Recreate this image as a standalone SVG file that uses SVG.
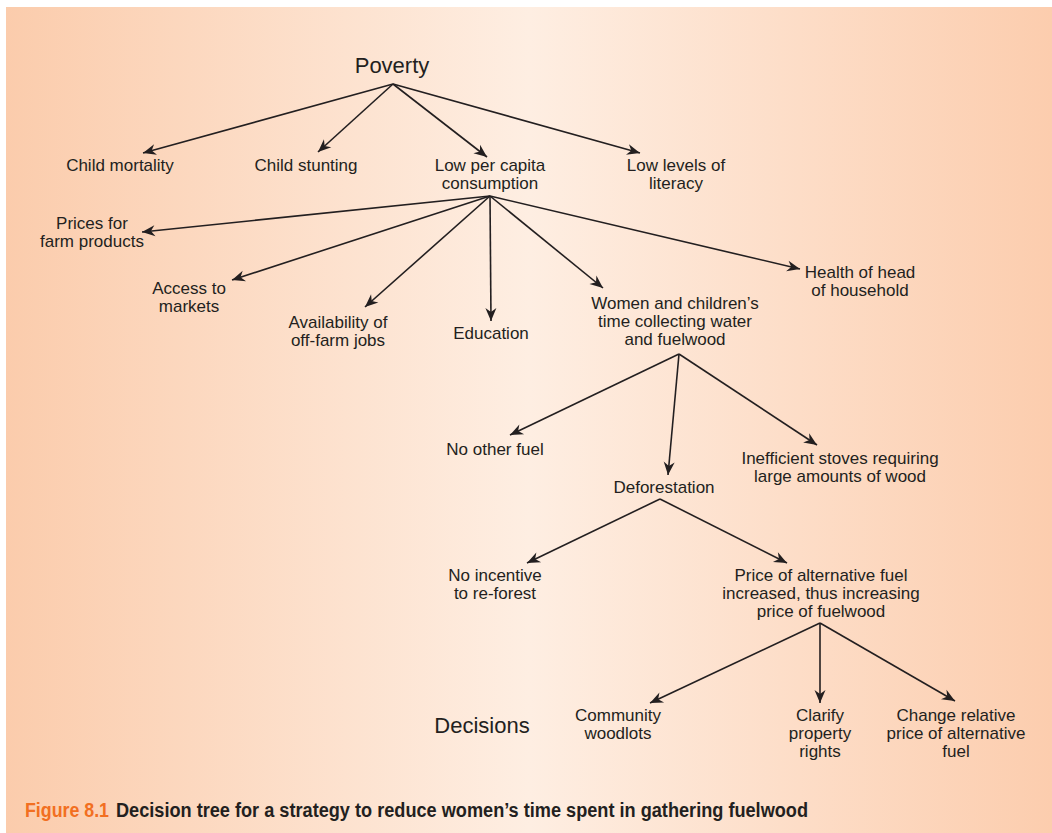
<svg xmlns="http://www.w3.org/2000/svg" width="1052" height="833" viewBox="0 0 1052 833">
<defs>
<linearGradient id="bg" x1="0" y1="0" x2="1" y2="0">
<stop offset="0" stop-color="#fbccac"/>
<stop offset="0.5" stop-color="#feeee2"/>
<stop offset="1" stop-color="#fccdae"/>
</linearGradient>
<marker id="ah" markerUnits="userSpaceOnUse" markerWidth="16" markerHeight="12" viewBox="-14 -6 16 12" refX="0" refY="0" orient="auto">
<path d="M0,0 L-13,-5.5 L-9,0 L-13,5.5 Z" fill="#231f20"/>
</marker>
<style>
.t{font-family:"Liberation Sans",Arial,sans-serif;font-size:17px;fill:#231f20;text-anchor:middle}
.big{font-size:22px}
.e{stroke:#231f20;stroke-width:1.6;fill:none;marker-end:url(#ah)}
.cap{font-family:"Liberation Sans Narrow","Liberation Sans",Arial,sans-serif;font-weight:bold;font-size:20px}
</style>
</defs>
<rect x="0" y="0" width="1052" height="833" fill="#ffffff"/>
<rect x="6" y="7" width="1046" height="826" fill="url(#bg)"/>

<g id="connectors">
<line class="e" x1="393" y1="84" x2="143" y2="153"/>
<line class="e" x1="393" y1="84" x2="318" y2="152"/>
<line class="e" x1="393" y1="84" x2="487" y2="157"/>
<line class="e" x1="393" y1="84" x2="640" y2="153"/>
<line class="e" x1="490" y1="196" x2="142" y2="232"/>
<line class="e" x1="490" y1="196" x2="232" y2="280"/>
<line class="e" x1="490" y1="196" x2="365" y2="307"/>
<line class="e" x1="490" y1="196" x2="491" y2="321"/>
<line class="e" x1="490" y1="196" x2="603" y2="288"/>
<line class="e" x1="490" y1="196" x2="800" y2="269"/>
<line class="e" x1="679" y1="354" x2="510" y2="435"/>
<line class="e" x1="679" y1="354" x2="668" y2="475"/>
<line class="e" x1="679" y1="354" x2="817" y2="445"/>
<line class="e" x1="660" y1="499" x2="527" y2="563"/>
<line class="e" x1="660" y1="499" x2="787" y2="563"/>
<line class="e" x1="820" y1="623" x2="650" y2="703"/>
<line class="e" x1="820" y1="623" x2="820" y2="703"/>
<line class="e" x1="820" y1="623" x2="955" y2="701"/>
</g>

<g id="poverty"><text class="t big" x="392" y="73">Poverty</text></g>
<g id="child-mortality"><text class="t" x="120" y="171">Child mortality</text></g>
<g id="child-stunting"><text class="t" x="306" y="171">Child stunting</text></g>
<g id="low-consumption"><text class="t" x="490" y="171">Low per capita</text><text class="t" x="490" y="189">consumption</text></g>
<g id="low-literacy"><text class="t" x="676" y="171">Low levels of</text><text class="t" x="676" y="189">literacy</text></g>
<g id="prices"><text class="t" x="92" y="229">Prices for</text><text class="t" x="92" y="247">farm products</text></g>
<g id="access"><text class="t" x="189" y="294">Access to</text><text class="t" x="189" y="312">markets</text></g>
<g id="availability"><text class="t" x="338" y="328">Availability of</text><text class="t" x="338" y="346">off-farm jobs</text></g>
<g id="education"><text class="t" x="491" y="339">Education</text></g>
<g id="women"><text class="t" x="675" y="309">Women and children’s</text><text class="t" x="675" y="327">time collecting water</text><text class="t" x="675" y="345">and fuelwood</text></g>
<g id="health"><text class="t" x="860" y="278">Health of head</text><text class="t" x="860" y="296">of household</text></g>
<g id="no-other-fuel"><text class="t" x="495" y="455">No other fuel</text></g>
<g id="deforestation"><text class="t" x="664" y="493">Deforestation</text></g>
<g id="stoves"><text class="t" x="840" y="464">Inefficient stoves requiring</text><text class="t" x="840" y="482">large amounts of wood</text></g>
<g id="no-incentive"><text class="t" x="495" y="581">No incentive</text><text class="t" x="495" y="599">to re-forest</text></g>
<g id="price-alt"><text class="t" x="821" y="581">Price of alternative fuel</text><text class="t" x="821" y="599">increased, thus increasing</text><text class="t" x="821" y="617">price of fuelwood</text></g>
<g id="decisions"><text class="t big" x="482" y="733">Decisions</text></g>
<g id="woodlots"><text class="t" x="618" y="721">Community</text><text class="t" x="618" y="739">woodlots</text></g>
<g id="property"><text class="t" x="820" y="721">Clarify</text><text class="t" x="820" y="739">property</text><text class="t" x="820" y="757">rights</text></g>
<g id="change-price"><text class="t" x="956" y="721">Change relative</text><text class="t" x="956" y="739">price of alternative</text><text class="t" x="956" y="757">fuel</text></g>

<g id="caption">
<text class="cap" x="25" y="817" fill="#f26f21" textLength="84" lengthAdjust="spacingAndGlyphs">Figure 8.1</text>
<text class="cap" x="116" y="817" fill="#231f20" textLength="692" lengthAdjust="spacingAndGlyphs">Decision tree for a strategy to reduce women’s time spent in gathering fuelwood</text>
</g>
</svg>
